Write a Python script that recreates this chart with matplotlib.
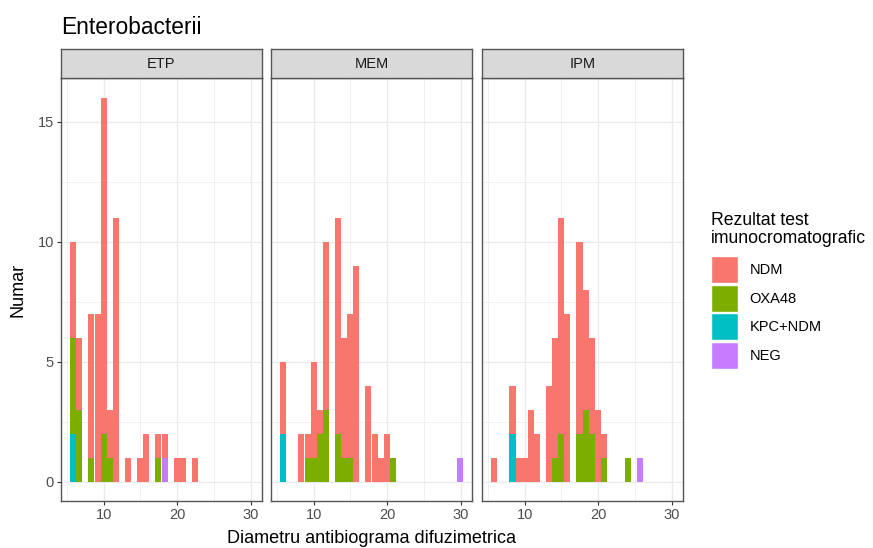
import matplotlib
matplotlib.use("Agg")
import matplotlib.pyplot as plt
from matplotlib.patches import Patch
from matplotlib.ticker import FixedLocator

plt.rcParams["font.family"] = ["Liberation Sans", "DejaVu Sans"]

# 30 histogram bins shared by the three facets
bin_start = 5.45
bin_width = 0.827
n_bins = 30

panels = ["ETP", "MEM", "IPM"]
categories = ["NDM", "OXA48", "KPC+NDM", "NEG"]
colors = ["#F8766D", "#7CAE00", "#00BFC4", "#C77CFF"]

# counts per bin (bin 0 .. bin 29)
etp_ndm = [4, 3, 0, 6, 7, 14, 2, 11, 0, 1, 0, 1, 2, 0, 1, 1, 0, 1, 1, 0, 1, 0, 0, 0, 0, 0, 0, 0, 0, 0]
etp_oxa = [4, 3, 0, 1, 0, 2, 1, 0, 0, 0, 0, 0, 0, 0, 1, 0, 0, 0, 0, 0, 0, 0, 0, 0, 0, 0, 0, 0, 0, 0]
etp_kpc = [2, 0, 0, 0, 0, 0, 0, 0, 0, 0, 0, 0, 0, 0, 0, 0, 0, 0, 0, 0, 0, 0, 0, 0, 0, 0, 0, 0, 0, 0]
etp_neg = [0, 0, 0, 0, 0, 0, 0, 0, 0, 0, 0, 0, 0, 0, 0, 1, 0, 0, 0, 0, 0, 0, 0, 0, 0, 0, 0, 0, 0, 0]

mem_ndm = [3, 0, 0, 2, 1, 4, 1, 7, 0, 9, 5, 6, 9, 0, 4, 2, 1, 2, 0, 0, 0, 0, 0, 0, 0, 0, 0, 0, 0, 0]
mem_oxa = [0, 0, 0, 0, 1, 1, 2, 3, 0, 2, 1, 1, 0, 0, 0, 0, 0, 0, 1, 0, 0, 0, 0, 0, 0, 0, 0, 0, 0, 0]
mem_kpc = [2, 0, 0, 0, 0, 0, 0, 0, 0, 0, 0, 0, 0, 0, 0, 0, 0, 0, 0, 0, 0, 0, 0, 0, 0, 0, 0, 0, 0, 0]
mem_neg = [0, 0, 0, 0, 0, 0, 0, 0, 0, 0, 0, 0, 0, 0, 0, 0, 0, 0, 0, 0, 0, 0, 0, 0, 0, 0, 0, 0, 0, 1]

ipm_ndm = [1, 0, 0, 2, 1, 1, 3, 2, 0, 4, 5, 9, 7, 0, 8, 5, 4, 3, 1, 0, 0, 0, 0, 0, 0, 0, 0, 0, 0, 0]
ipm_oxa = [0, 0, 0, 0, 0, 0, 0, 0, 0, 0, 1, 2, 0, 0, 2, 3, 2, 0, 1, 0, 0, 0, 1, 0, 0, 0, 0, 0, 0, 0]
ipm_kpc = [0, 0, 0, 2, 0, 0, 0, 0, 0, 0, 0, 0, 0, 0, 0, 0, 0, 0, 0, 0, 0, 0, 0, 0, 0, 0, 0, 0, 0, 0]
ipm_neg = [0, 0, 0, 0, 0, 0, 0, 0, 0, 0, 0, 0, 0, 0, 0, 0, 0, 0, 0, 0, 0, 0, 0, 0, 1, 0, 0, 0, 0, 0]

counts = {
    "ETP": [etp_ndm, etp_oxa, etp_kpc, etp_neg],
    "MEM": [mem_ndm, mem_oxa, mem_kpc, mem_neg],
    "IPM": [ipm_ndm, ipm_oxa, ipm_kpc, ipm_neg],
}

bin_lefts = [bin_start + i * bin_width for i in range(n_bins)]
x_span = n_bins * bin_width
xlim = (bin_start - 0.05 * x_span, bin_start + x_span + 0.05 * x_span)
ylim = (-0.8, 16.8)

fig = plt.figure(figsize=(8.73, 5.48), dpi=100)
W, H = 873, 548

panel_left = [61, 271, 482]
panel_w = 201
panel_top, panel_bottom = 78.3, 501
strip_top = 49.3

border = "#555555"

for i, name in enumerate(panels):
    ax = fig.add_axes([panel_left[i] / W, (H - panel_bottom) / H,
                       panel_w / W, (panel_bottom - panel_top) / H])
    ax.set_facecolor("white")
    bottom = [0] * n_bins
    # stack: NEG at the bottom, NDM on top (ggplot order)
    for j in [3, 2, 1, 0]:
        vals = counts[name][j]
        ax.bar(bin_lefts, vals, width=bin_width, bottom=bottom, align="edge",
               color=colors[j], linewidth=0, zorder=2)
        bottom = [b + v for b, v in zip(bottom, vals)]
    ax.set_xlim(*xlim)
    ax.set_ylim(*ylim)
    ax.xaxis.set_major_locator(FixedLocator([10, 20, 30]))
    ax.xaxis.set_minor_locator(FixedLocator([5, 15, 25]))
    ax.yaxis.set_major_locator(FixedLocator([0, 5, 10, 15]))
    ax.yaxis.set_minor_locator(FixedLocator([2.5, 7.5, 12.5]))
    ax.grid(which="major", color="#EBEBEB", linewidth=1.0, zorder=0)
    ax.grid(which="minor", color="#EBEBEB", linewidth=0.5, zorder=0)
    ax.set_axisbelow(True)
    ax.tick_params(which="major", length=2.6, width=0.8, color="#333333",
                   labelsize=10.5, labelcolor="#4D4D4D", pad=2.5)
    ax.tick_params(which="minor", length=0)
    if i > 0:
        ax.tick_params(axis="y", labelleft=False, length=0)
    for sp in ax.spines.values():
        sp.set_color(border)
        sp.set_linewidth(1.0)

    sax = fig.add_axes([panel_left[i] / W, (H - panel_top) / H,
                        panel_w / W, (panel_top - strip_top) / H])
    sax.set_facecolor("#D9D9D9")
    sax.set_xticks([])
    sax.set_yticks([])
    for sp in sax.spines.values():
        sp.set_color(border)
        sp.set_linewidth(1.0)
    sax.text(0.5, 0.5, name, ha="center", va="center", fontsize=10.5,
             color="#1A1A1A", transform=sax.transAxes)

fig.text(61 / W, (H - 34) / H, "Enterobacterii", fontsize=16.4,
         ha="left", va="baseline", color="black")
fig.text((61 + 682) / 2 / W, (H - 543) / H, "Diametru antibiograma difuzimetrica",
         fontsize=13, ha="center", va="baseline", color="black")
fig.text(18 / W, (H - 290) / H, "Numar", fontsize=13, rotation=90,
         ha="center", va="center", color="black")

# legend title as its own text, entries below it
fig.text(711 / W, (H - 243) / H, "Rezultat test\nimunocromatografic",
         fontsize=12.7, ha="left", va="baseline", linespacing=1.05, color="black")
handles = [Patch(facecolor=c, edgecolor="white", linewidth=1.0) for c in colors]
leg = fig.legend(handles, categories, loc="upper left",
                 bbox_to_anchor=(711 / W, (H - 256) / H),
                 fontsize=10.5, frameon=False,
                 handlelength=1.85, handleheight=2.47, handletextpad=0.8,
                 labelspacing=0.12, borderaxespad=0, borderpad=0)

fig.savefig("out.png", dpi=100)
